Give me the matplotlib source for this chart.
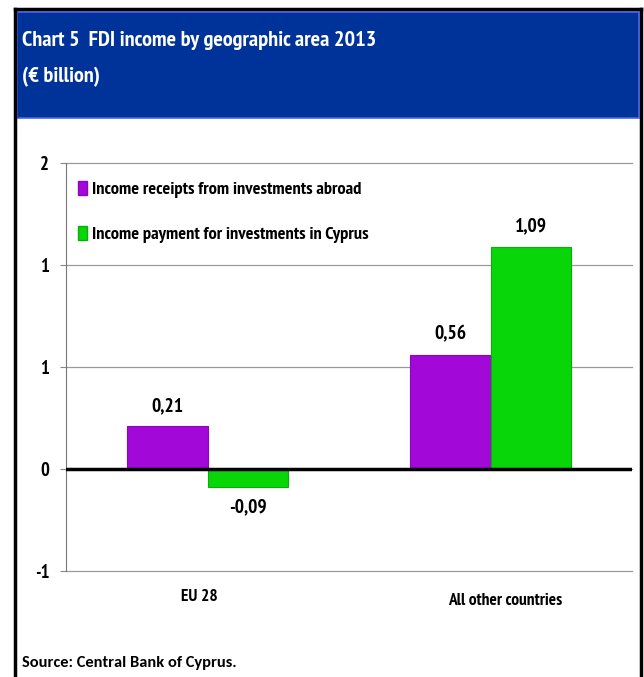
import matplotlib.pyplot as plt
import matplotlib.patches as mpatches
from matplotlib.lines import Line2D
import numpy as np

# --- data ---
categories = ['EU 28', 'All other countries']
receipts = [0.21, 0.56]
payments = [-0.09, 1.09]
series_names = ['Income receipts from investments abroad',
                'Income payment for investments in Cyprus']
yticks = [-0.5, 0.0, 0.5, 1.0, 1.5]
ytick_labels = ['-1', '0', '1', '1', '2']

purple = '#A208D8'
green = '#08D608'
navy = '#003399'

FONT = ['PT Sans Narrow', 'DejaVu Sans']
plt.rcParams['font.family'] = FONT
plt.rcParams['font.weight'] = 'bold'

W, H = 644, 677
fig = plt.figure(figsize=(W / 100, H / 100), dpi=100)

def px(x, y):
    # pixel (from top-left) to figure fraction
    return x / W, 1 - y / H

# outer frame (left, top, right edges)
for xs, ys in [((15, 15), (9, H)), ((15, 641), (9, 9)), ((641, 641), (9, H))]:
    fig.add_artist(Line2D([px(x, 0)[0] for x in xs], [px(0, y)[1] for y in ys],
                          color='black', lw=2.5, transform=fig.transFigure))

# header box
x0, y0 = px(17, 118)
hdr = mpatches.Rectangle((x0, y0), (639 - 17) / W, (118 - 12) / H,
                         transform=fig.transFigure, facecolor=navy,
                         edgecolor='#4466EE', lw=1.2)
fig.add_artist(hdr)
fig.text(*px(22, 40), 'Chart 5  FDI income by geographic area 2013',
         color='white', fontsize=16, fontweight='bold', va='center')
fig.text(*px(22, 77), '(€ billion)', color='white', fontsize=16,
         fontweight='bold', va='center')

# plot area
ax = fig.add_axes([66 / W, (H - 571) / H, 566 / W, 408 / H])
x = np.arange(len(categories))
bw = 0.286
b1 = ax.bar(x - bw / 2, receipts, bw, color=purple, edgecolor='#8A06B8',
            lw=0.8, label=series_names[0], zorder=3)
b2 = ax.bar(x + bw / 2, payments, bw, color=green, edgecolor='#06B006',
            lw=0.8, label=series_names[1], zorder=3)

for bars, vals in [(b1, receipts), (b2, payments)]:
    for rect, v in zip(bars, vals):
        cx = rect.get_x() + rect.get_width() / 2
        off = 8 if v >= 0 else -8
        ax.annotate(f'{v:.2f}'.replace('.', ','), (cx, v), xytext=(0, off),
                    textcoords='offset points', ha='center',
                    va='bottom' if v >= 0 else 'top',
                    fontsize=14, fontweight='bold')

ax.set_xlim(-0.5, 1.5)
ax.set_ylim(-0.5, 1.5)
ax.set_yticks(yticks)
ax.set_yticklabels(ytick_labels, fontsize=13.5, fontweight='bold')
ax.tick_params(axis='y', length=4, width=0.8, color='#888888', pad=8)
ax.set_xticks([])
ax.grid(axis='y', color='#999999', lw=0.9, zorder=0)
for gl in ax.get_ygridlines():
    gl.set_clip_on(False)
ax.axhline(0, color='black', lw=2.5, zorder=4)
for s in ['top', 'right', 'bottom']:
    ax.spines[s].set_visible(False)
ax.spines['left'].set_color('#777777')
ax.spines['left'].set_linewidth(0.8)

# category labels under the axis
label_shift = [-0.027, 0.051]
label_y = [-0.627, -0.645]
for i, name in enumerate(categories):
    ax.text(i + label_shift[i], label_y[i], name, ha='center', va='center',
            fontsize=12.5, fontweight='bold')

handles = [mpatches.Patch(facecolor=purple, edgecolor='#8A06B8'),
           mpatches.Patch(facecolor=green, edgecolor='#06B006')]
ax.legend(handles, series_names, loc='upper left', bbox_to_anchor=(0.009, 0.975),
          borderaxespad=0, frameon=False, handlelength=0.49, handleheight=0.82,
          handletextpad=0.27, labelspacing=1.5,
          prop={'weight': 'bold', 'size': 13.2})

fig.text(*px(22, 663), 'Source: Central Bank of Cyprus.', fontsize=11.8,
         fontweight='bold', va='center', family=['Carlito', 'DejaVu Sans'])

fig.savefig('out.png', dpi=100)
